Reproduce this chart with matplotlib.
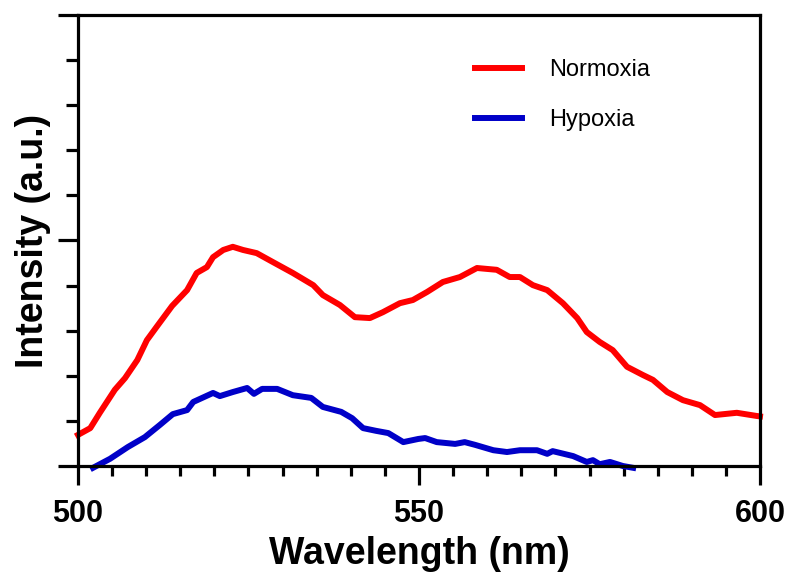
import matplotlib.pyplot as plt
from matplotlib.ticker import MultipleLocator

plt.rcParams['font.family'] = ['Liberation Sans', 'DejaVu Sans']

# spectra (intensity in arbitrary units, 0-10 scale)
normoxia_wl = [500, 501.8, 503.2, 505.4, 506.9, 508.7, 510.1, 511.6, 513.8, 516.0,
               517.4, 518.9, 519.8, 521.3, 522.7, 524.2, 526.2, 528.6, 531.5, 534.5,
               535.9, 538.4, 540.6, 542.8, 544.7, 547.2, 549.1, 551.2, 553.5, 556.0,
               558.5, 561.4, 563.3, 564.8, 566.7, 568.8, 571.1, 573.2, 574.6, 576.5,
               578.4, 580.5, 582.8, 584.3, 586.4, 588.7, 591.2, 593.4, 596.6, 599.5, 600]
normoxia = [0.69, 0.84, 1.18, 1.69, 1.95, 2.35, 2.79, 3.10, 3.55, 3.90,
            4.28, 4.41, 4.63, 4.79, 4.86, 4.79, 4.72, 4.52, 4.28, 4.01,
            3.79, 3.57, 3.30, 3.28, 3.41, 3.61, 3.68, 3.86, 4.08, 4.19,
            4.39, 4.35, 4.19, 4.19, 4.01, 3.90, 3.61, 3.28, 2.97, 2.75,
            2.57, 2.20, 2.02, 1.91, 1.64, 1.46, 1.35, 1.13, 1.18, 1.11, 1.10]

hypoxia_wl = [502.2, 504.7, 507.3, 509.8, 512.0, 513.9, 516.0, 516.9, 519.8, 520.8,
              522.7, 524.8, 525.8, 527.0, 529.2, 531.5, 534.2, 535.9, 538.6, 540.2,
              541.8, 543.7, 545.5, 547.7, 549.9, 550.9, 552.6, 555.3, 556.7, 558.2,
              560.9, 562.9, 564.8, 567.3, 568.8, 569.6, 572.6, 574.6, 575.5, 576.5,
              578.0, 579.9, 581.4]
hypoxia = [-0.04, 0.16, 0.42, 0.64, 0.91, 1.15, 1.24, 1.42, 1.62, 1.55,
           1.64, 1.73, 1.60, 1.71, 1.71, 1.57, 1.51, 1.31, 1.20, 1.06,
           0.84, 0.78, 0.73, 0.53, 0.60, 0.62, 0.53, 0.49, 0.53, 0.47,
           0.35, 0.31, 0.35, 0.35, 0.27, 0.33, 0.22, 0.09, 0.13, 0.04,
           0.09, 0.0, -0.04]

fig = plt.figure(figsize=(7.87, 5.85), dpi=100)
ax = fig.add_axes([0.0991, 0.2034, 0.8666, 0.7710])

ax.plot(normoxia_wl, normoxia, color='#ff0000', lw=4.3, label='Normoxia', clip_on=False)
ax.plot(hypoxia_wl, hypoxia, color='#0000c8', lw=4.3, label='Hypoxia', clip_on=False)

ax.set_xlim(500, 600)
ax.set_ylim(0, 10)

for s in ax.spines.values():
    s.set_linewidth(2.3)

ax.xaxis.set_major_locator(MultipleLocator(50))
ax.xaxis.set_minor_locator(MultipleLocator(5))
ax.yaxis.set_major_locator(MultipleLocator(5))
ax.yaxis.set_minor_locator(MultipleLocator(1))
ax.tick_params(which='both', direction='out', width=2.3, top=False, right=False)
ax.tick_params(axis='x', which='major', length=14, pad=10, labelsize=22)
ax.tick_params(axis='x', which='minor', length=7.5)
ax.tick_params(axis='y', which='major', length=14.4, labelleft=False)
ax.tick_params(axis='y', which='minor', length=8.6)
for lbl in ax.get_xticklabels():
    lbl.set_fontweight('bold')

ax.set_xlabel('Wavelength (nm)', fontsize=27, fontweight='bold', labelpad=5)
ax.set_ylabel('Intensity (a.u.)', fontsize=27, fontweight='bold', labelpad=5)

ax.legend(loc='upper left', bbox_to_anchor=(0.603, 0.899), bbox_transform=fig.transFigure,
          frameon=False, fontsize=17, handlelength=2.0, handletextpad=1.15,
          labelspacing=1.2, borderpad=0, borderaxespad=0)

fig.savefig('out.png', dpi=100)
